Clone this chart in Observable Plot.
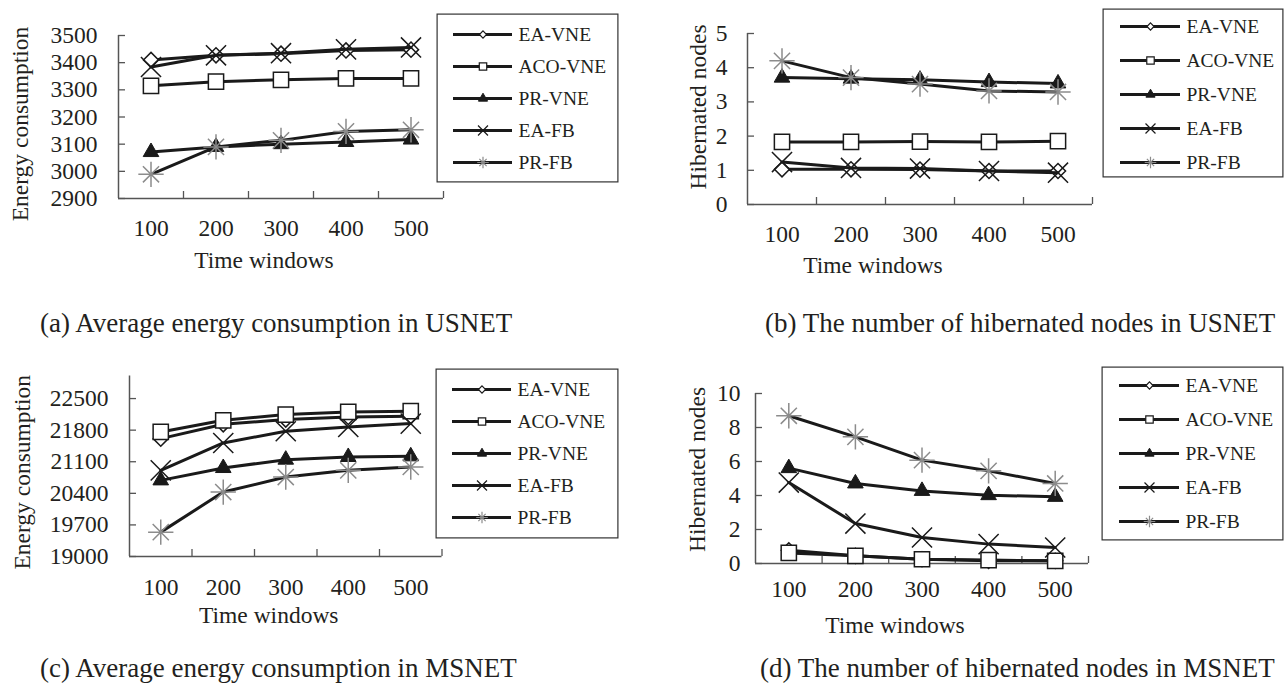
<!DOCTYPE html>
<html><head><meta charset="utf-8">
<script src="https://cdn.jsdelivr.net/npm/d3@7"></script>
<script src="https://cdn.jsdelivr.net/npm/@observablehq/plot@0.6"></script>
<style>
body{margin:0;background:#fff;}
#root{position:relative;width:1284px;height:694px;overflow:hidden;font-family:"Liberation Serif","Times New Roman",serif;color:#231f20;}
.abs{position:absolute;}
.cap{position:absolute;font-size:27px;white-space:nowrap;transform:translate(0,-50%);}
</style></head><body><div id="root"></div>
<script>
// ---------- data ----------
const windows = [100, 200, 300, 400, 500];
const seriesNames = ["EA-VNE", "ACO-VNE", "PR-VNE", "EA-FB", "PR-FB"];
const xTitle = "Time windows";
const yTitleEnergy = "Energy consumption";
const yTitleNodes = "Hibernated nodes";
const captions = [
  "(a) Average energy consumption in USNET",
  "(b) The number of hibernated nodes in USNET",
  "(c) Average energy consumption in MSNET",
  "(d) The number of hibernated nodes in MSNET"
];
// (a) energy, USNET
const aEA_VNE  = [3410, 3427, 3433, 3445, 3448];
const aACO_VNE = [3315, 3330, 3337, 3342, 3342];
const aPR_VNE  = [3071, 3090, 3100, 3108, 3117];
const aEA_FB   = [3384, 3427, 3435, 3449, 3456];
const aPR_FB   = [2989, 3090, 3114, 3147, 3153];
const aTicks = [2900, 3000, 3100, 3200, 3300, 3400, 3500];
// (b) hibernated nodes, USNET
const bEA_VNE  = [1.03, 1.03, 1.02, 0.98, 0.98];
const bACO_VNE = [1.83, 1.83, 1.84, 1.83, 1.85];
const bPR_VNE  = [3.71, 3.68, 3.65, 3.58, 3.54];
const bEA_FB   = [1.24, 1.07, 1.05, 0.98, 0.93];
const bPR_FB   = [4.20, 3.71, 3.52, 3.32, 3.29];
const bTicks = [0, 1, 2, 3, 4, 5];
// (c) energy, MSNET
const cEA_VNE  = [21612, 21930, 22034, 22093, 22108];
const cACO_VNE = [21760, 22019, 22145, 22204, 22219];
const cPR_VNE  = [20687, 20961, 21146, 21205, 21220];
const cEA_FB   = [20909, 21516, 21775, 21871, 21945];
const cPR_FB   = [19540, 20428, 20761, 20909, 20983];
const cTicks = [19000, 19700, 20400, 21100, 21800, 22500];
const cMax = 23000;
// (d) hibernated nodes, MSNET
const dEA_VNE  = [0.78, 0.45, 0.25, 0.16, 0.16];
const dACO_VNE = [0.62, 0.45, 0.25, 0.20, 0.16];
const dPR_VNE  = [5.61, 4.71, 4.27, 4.02, 3.92];
const dEA_FB   = [4.76, 2.35, 1.53, 1.14, 0.94];
const dPR_FB   = [8.69, 7.45, 6.08, 5.45, 4.71];
const dTicks = [0, 2, 4, 6, 8, 10];

// ---------- styling ----------
const FONT = "Liberation Serif, Times New Roman, serif";
const INK = "#1a1a1a";
const AXIS = "#555";
const GRAY = "#8c8c8c";
const TICK_FS = 23.5;
const TITLE_FS = 23.5;

function markers(data, name, big, x, y) {
  const sw = big ? 1.5 : 1.2;
  switch (name) {
    case "EA-VNE":  return [Plot.dot(data, {x, y, symbol: "diamond2", r: big ? 6.8 : 3.2, fill: "white", stroke: INK, strokeWidth: sw})];
    case "ACO-VNE": return [Plot.dot(data, {x, y, symbol: "square", r: big ? 8.6 : 4.2, fill: "white", stroke: INK, strokeWidth: sw})];
    case "PR-VNE":  return [Plot.dot(data, {x, y, symbol: "triangle", r: big ? 5.8 : 3.4, fill: INK, stroke: INK, strokeWidth: 1})];
    case "EA-FB":   return [Plot.dot(data, {x, y, symbol: "times", r: big ? 9.2 : 4.6, stroke: INK, strokeWidth: sw})];
    case "PR-FB":   return [
      Plot.dot(data, {x, y, symbol: "times", r: big ? 7.4 : 3.4, stroke: GRAY, strokeWidth: sw}),
      Plot.dot(data, {x, y, symbol: "plus", r: big ? 8.2 : 3.8, stroke: GRAY, strokeWidth: sw})
    ];
  }
}

function panel(cfg) {
  const {width, height, mL, mR, mT, mB, yDomain, yTicks, series} = cfg;
  const innerW = width - mL - mR, innerH = height - mT - mB;
  const marks = [
    Plot.ruleX([50], {stroke: AXIS, strokeWidth: 1.5}),
    Plot.ruleY([yDomain[0]], {stroke: AXIS, strokeWidth: 1.5}),
    Plot.ruleX([150, 250, 350, 450, 550], {insetTop: innerH - 7, stroke: AXIS, strokeWidth: 1.3}),
    Plot.ruleY(yTicks, {insetRight: innerW - 7, stroke: AXIS, strokeWidth: 1.3}),
    Plot.axisX(windows, {anchor: "bottom", tickSize: 0, tickPadding: cfg.xPad, tickFormat: d => String(d), fontSize: TICK_FS, label: null}),
    Plot.axisY(yTicks, {anchor: "left", tickSize: 0, tickPadding: cfg.yPad, tickFormat: d => String(d), fontSize: TICK_FS, label: null}),
    Plot.text([cfg.yTitle], {frameAnchor: "left", text: d => d, rotate: -90, dx: cfg.ytDx, dy: cfg.ytDy, fontSize: TITLE_FS, textAnchor: "middle", lineAnchor: "middle"}),
    Plot.text([xTitle], {frameAnchor: "bottom", text: d => d, dx: cfg.xtDx, dy: cfg.xtDy, fontSize: TITLE_FS, textAnchor: "middle", lineAnchor: "middle"})
  ];
  for (const [name, arr] of series) {
    const rows = windows.map((w, i) => ({w, v: arr[i]}));
    marks.push(Plot.line(rows, {x: "w", y: "v", stroke: INK, strokeWidth: 3, strokeLinejoin: "round"}));
    marks.push(...markers(rows, name, true, "w", "v"));
  }
  return Plot.plot({
    width, height, marginLeft: mL, marginRight: mR, marginTop: mT, marginBottom: mB,
    style: {fontFamily: FONT, color: "#231f20", background: "transparent", overflow: "visible"},
    x: {domain: [50, 550], axis: null},
    y: {domain: yDomain, axis: null},
    marks
  });
}

function legend(cfg) {
  const marks = [
    Plot.frame({stroke: "#333", strokeWidth: 1.2, inset: 0.6}),
    Plot.ruleY(seriesNames, {y: d => d, x1: cfg.l1, x2: cfg.l2, stroke: INK, strokeWidth: 3})
  ];
  const mid = (cfg.l1 + cfg.l2) / 2;
  for (const name of seriesNames) marks.push(...markers([name], name, false, () => mid, d => d));
  marks.push(Plot.text(seriesNames, {x: cfg.tx, y: d => d, text: d => d, textAnchor: "start", fontSize: 19.5}));
  return Plot.plot({
    width: cfg.width, height: cfg.height, margin: 0,
    style: {fontFamily: FONT, color: "#231f20", background: "white", overflow: "visible"},
    x: {type: "identity", axis: null},
    y: {type: "point", domain: seriesNames, range: cfg.rows, padding: 0, axis: null},
    marks
  });
}

const root = document.getElementById("root");
function place(node, left, top) {
  const d = document.createElement("div");
  d.className = "abs"; d.style.left = left + "px"; d.style.top = top + "px";
  d.appendChild(node); root.appendChild(d);
}

place(panel({width: 450, height: 280, mL: 118, mR: 7, mT: 35, mB: 82, yDomain: [2900, 3500], yTicks: aTicks,
  xPad: 21, yPad: 21, yTitle: yTitleEnergy, ytDx: -98, ytDy: 7, xtDx: -17, xtDy: 62,
  series: [["EA-VNE", aEA_VNE], ["ACO-VNE", aACO_VNE], ["PR-VNE", aPR_VNE], ["EA-FB", aEA_FB], ["PR-FB", aPR_FB]]}), 0, 0);
place(panel({width: 455, height: 280, mL: 107, mR: 3, mT: 33, mB: 76, yDomain: [0, 5], yTicks: bTicks,
  xPad: 21, yPad: 20, yTitle: yTitleNodes, ytDx: -49, ytDy: -12, xtDx: -47, xtDy: 61,
  series: [["EA-VNE", bEA_VNE], ["ACO-VNE", bACO_VNE], ["PR-VNE", bPR_VNE], ["EA-FB", bEA_FB], ["PR-FB", bPR_FB]]}), 640, 0);
place(panel({width: 450, height: 300, mL: 129, mR: 8.5, mT: 15.5, mB: 104, yDomain: [19000, cMax], yTicks: cTicks,
  xPad: 22, yPad: 21, yTitle: yTitleEnergy, ytDx: -107, ytDy: 6, xtDx: -17, xtDy: 59,
  series: [["EA-VNE", cEA_VNE], ["ACO-VNE", cACO_VNE], ["PR-VNE", cPR_VNE], ["EA-FB", cEA_FB], ["PR-FB", cPR_FB]]}), 0, 360);
place(panel({width: 455, height: 300, mL: 115, mR: 7, mT: 33, mB: 97, yDomain: [0, 10], yTicks: dTicks,
  xPad: 17, yPad: 15, yTitle: yTitleNodes, ytDx: -58, ytDy: -9, xtDx: -27, xtDy: 62,
  series: [["EA-VNE", dEA_VNE], ["ACO-VNE", dACO_VNE], ["PR-VNE", dPR_VNE], ["EA-FB", dEA_FB], ["PR-FB", dPR_FB]]}), 640, 360);

place(legend({width: 182, height: 169, rows: [19, 150], l1: 17, l2: 76, tx: 82}), 436, 13);
place(legend({width: 181, height: 169, rows: [17, 155], l1: 18, l2: 78, tx: 84}), 1102, 8);
place(legend({width: 183, height: 170, rows: [19, 150], l1: 17, l2: 76, tx: 82}), 435, 368);
place(legend({width: 182, height: 174, rows: [19, 155], l1: 18, l2: 78, tx: 84}), 1101, 366);

const capPos = [[40, 323], [765, 323], [40, 668], [760, 668]];
captions.forEach((t, i) => {
  const c = document.createElement("div");
  c.className = "cap"; c.textContent = t;
  c.style.left = capPos[i][0] + "px"; c.style.top = capPos[i][1] + "px";
  root.appendChild(c);
});
</script></body></html>
